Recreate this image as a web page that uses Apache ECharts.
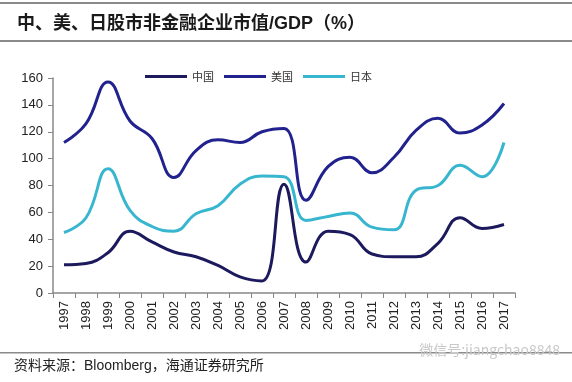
<!DOCTYPE html>
<html><head><meta charset="utf-8">
<script src="https://cdn.jsdelivr.net/npm/echarts@6/dist/echarts.min.js"></script>
<style>html,body{margin:0;padding:0;background:#fff}#c{width:572px;height:382px}</style>
</head><body><div id="c"></div>
<script>
var years = ['1997','1998','1999','2000','2001','2002','2003','2004','2005','2006','2007','2008','2009','2010','2011','2012','2013','2014','2015','2016','2017'];
var china = [21,22,30,46,38,30.5,27,20.5,12,9,81,23,46,43.5,29,27,27,37,56,48,51];
var usa = [112,126,157,128,115,86,106,114,112,120,122.5,69,94,101,89.5,101,121,130,119,125,141];
var japan = [45,56,92.5,61.5,49.5,46,59,65,81,87,86.5,54,57,59.5,49,47,76.5,80,95,86.5,112];
var yTicks = [0,20,40,60,80,100,120,140,160];
var seriesNames = ['中国','美国','日本'];

var chart = echarts.init(document.getElementById('c'));
var cjk = '"Noto Sans CJK SC", sans-serif';
var mixed = '"Liberation Sans", "Noto Sans CJK SC", sans-serif';
var latin = '"Liberation Sans", Arial, sans-serif';
chart.setOption({
  animation: false,
  title: {
    text: '中、美、日股市非金融企业市值/GDP（%）',
    left: 12, top: 10,
    textStyle: {fontFamily: mixed, fontSize: 18, fontWeight: 'bold', color: '#1a1a1a'}
  },
  legend: {
    data: seriesNames,
    top: 66, left: 140,
    itemWidth: 42, itemHeight: 3, itemGap: 10,
    icon: 'rect',
    textStyle: {fontFamily: cjk, fontSize: 11, color: '#333'}
  },
  grid: {left: 53, right: 57, top: 78, bottom: 89},
  xAxis: {
    type: 'category', data: years, boundaryGap: true,
    axisLine: {lineStyle: {color: '#888', width: 1.5}},
    axisTick: {show: true, length: 5, lineStyle: {color: '#888'}},
    axisLabel: {rotate: 90, fontFamily: latin, fontSize: 13, color: '#222', margin: 8, interval: 0}
  },
  yAxis: {
    type: 'value', min: yTicks[0], max: yTicks[yTicks.length-1], interval: 20,
    axisLine: {show: true, lineStyle: {color: '#888', width: 1.5}},
    axisTick: {show: true, length: 5, lineStyle: {color: '#888'}},
    splitLine: {show: false},
    axisLabel: {fontFamily: latin, fontSize: 13, color: '#222', margin: 10}
  },
  series: [
    {name: seriesNames[0], type: 'line', data: china, smooth: 0.45, symbol: 'none', lineStyle: {width: 3, color: '#1c1a5c'}, itemStyle: {color: '#1c1a5c'}},
    {name: seriesNames[1], type: 'line', data: usa, smooth: 0.45, symbol: 'none', lineStyle: {width: 3, color: '#22228e'}, itemStyle: {color: '#22228e'}},
    {name: seriesNames[2], type: 'line', data: japan, smooth: 0.45, symbol: 'none', lineStyle: {width: 3, color: '#38b6d0'}, itemStyle: {color: '#38b6d0'}}
  ],
  graphic: [
    {type: 'rect', shape: {x: 0, y: 2, width: 572, height: 2}, style: {fill: '#8a8a8a'}},
    {type: 'rect', shape: {x: 0, y: 40, width: 572, height: 2}, style: {fill: '#8a8a8a'}},
    {type: 'rect', shape: {x: 0, y: 352, width: 572, height: 1.5}, style: {fill: '#8a8a8a'}},
    {type: 'text', left: 14, top: 359, style: {text: '资料来源：Bloomberg，海通证券研究所', fontFamily: mixed, fontSize: 14, fill: '#222'}},
    {type: 'text', right: 12, top: 343, style: {text: '微信号:jiangchao8848', fontFamily: cjk, fontSize: 14, fill: '#c8c8c8'}}
  ]
});
</script></body></html>
